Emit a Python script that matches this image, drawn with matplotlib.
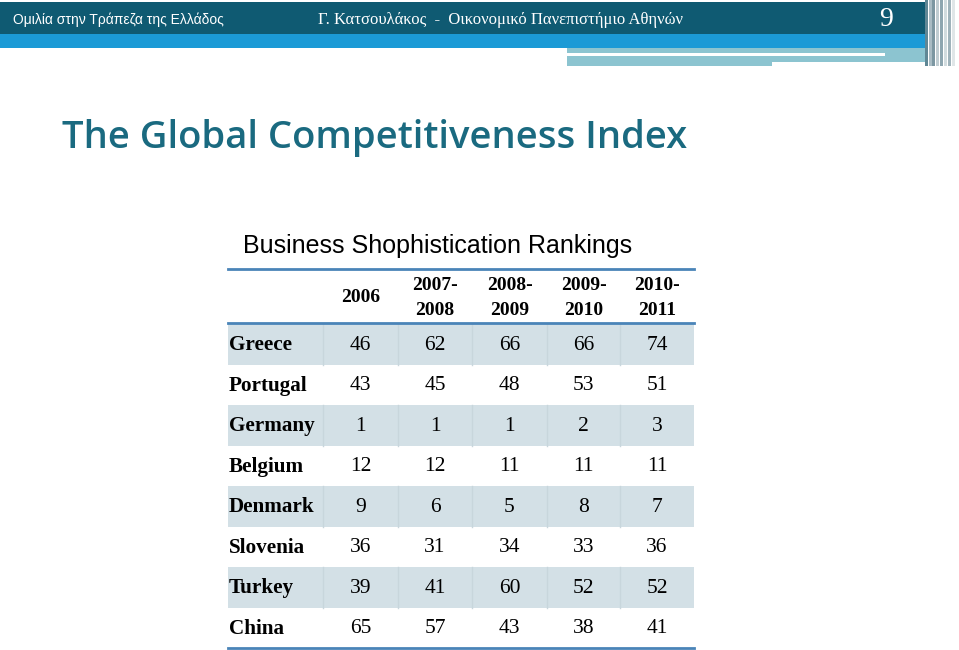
import matplotlib.pyplot as plt
from matplotlib.patches import Rectangle
from matplotlib import font_manager

countries = ['Greece', 'Portugal', 'Germany', 'Belgium', 'Denmark', 'Slovenia', 'Turkey', 'China']
periods = ['2006', '2007-\n2008', '2008-\n2009', '2009-\n2010', '2010-\n2011']
rank_2006 = [46, 43, 1, 12, 9, 36, 39, 65]
rank_2007_08 = [62, 45, 1, 12, 6, 31, 41, 57]
rank_2008_09 = [66, 48, 1, 11, 5, 34, 60, 43]
rank_2009_10 = [66, 53, 2, 11, 8, 33, 52, 38]
rank_2010_11 = [74, 51, 3, 11, 7, 36, 52, 41]
ranks = [rank_2006, rank_2007_08, rank_2008_09, rank_2009_10, rank_2010_11]

names = {f.name for f in font_manager.fontManager.ttflist}
narrow = 'Liberation Sans Narrow' if 'Liberation Sans Narrow' in names else 'Liberation Sans'
serif = 'Liberation Serif'

W, H = 959, 650
fig = plt.figure(figsize=(W / 100, H / 100), dpi=100)
ax = fig.add_axes([0, 0, 1, 1])
ax.set_xlim(0, W)
ax.set_ylim(H, 0)
ax.axis('off')

# slide header
ax.add_patch(Rectangle((0, 2), 925, 32, color='#0f5a72', lw=0))
ax.add_patch(Rectangle((0, 34), 925, 14, color='#1b9ad6', lw=0))
ax.add_patch(Rectangle((567, 48), 358, 14, color='#8cc4d0', lw=0))
ax.add_patch(Rectangle((567, 62), 205, 4, color='#8cc4d0', lw=0))
ax.add_patch(Rectangle((567, 53), 318, 3, color='white', lw=0))
for x, c in [(925, '#5f8795'), (929, '#a9bcc4'), (932, '#7c97a2'), (936, '#c0cdd2'),
             (940, '#8ea6b0'), (944, '#d2dcdf'), (948, '#9fb3bb'), (952, '#e0e6e8')]:
    ax.add_patch(Rectangle((x, 0), 3, 66, color=c, lw=0))

ax.text(13, 20, 'Ομιλία στην Τράπεζα της Ελλάδος', color='white', fontsize=10,
        family=narrow, va='center', ha='left')
ax.text(318, 20, 'Γ. Κατσουλάκος  -  Οικονομικό Πανεπιστήμιο Αθηνών', color='white',
        fontsize=12, family=serif, va='center', ha='left')
ax.text(886, 19, '9', color='white', fontsize=20, family=serif, va='center', ha='center')

# titles
ax.text(62, 138, 'The Global Competitiveness Index', color='#1a6a80', fontsize=27.5,
        family='Open Sans', fontweight='semibold', va='center', ha='left')
ax.text(243, 246, 'Business Shophistication Rankings', color='black', fontsize=18,
        family=narrow, va='center', ha='left')

# table
left, right = 228, 694
col_edges = [323, 398, 472, 547, 620, 694]
row_top, row_h = 324, 40.5
shade = '#d3e0e6'

for i, country in enumerate(countries):
    y0 = row_top + i * row_h
    if i % 2 == 0:
        ax.add_patch(Rectangle((left, y0), right - left, row_h, color=shade, lw=0))
        for xe in col_edges[:-1]:
            ax.plot([xe, xe], [y0, y0 + row_h], color='#c8d6dc', lw=1)
    yc = y0 + row_h / 2 + 1
    ax.text(left + 1, yc, country, family=serif, fontweight='bold', fontsize=15.2,
            va='center', ha='left', color='black')
    for j, col in enumerate(ranks):
        xc = (col_edges[j] + col_edges[j + 1]) / 2
        ax.text(xc, yc, str(col[i]), family=serif, fontsize=15.5, va='center',
                ha='center', color='black')

for j, p in enumerate(periods):
    xc = (col_edges[j] + col_edges[j + 1]) / 2
    ax.text(xc, 298, p, family=serif, fontweight='bold', fontsize=14, va='center',
            ha='center', color='black', linespacing=1.55)

line_c = '#4a84b8'
ax.plot([left, right], [269, 269], color=line_c, lw=2)
ax.plot([left, right], [323, 323], color=line_c, lw=2)
ax.plot([left, right], [648, 648], color=line_c, lw=2)

fig.savefig('out.png', dpi=100)
